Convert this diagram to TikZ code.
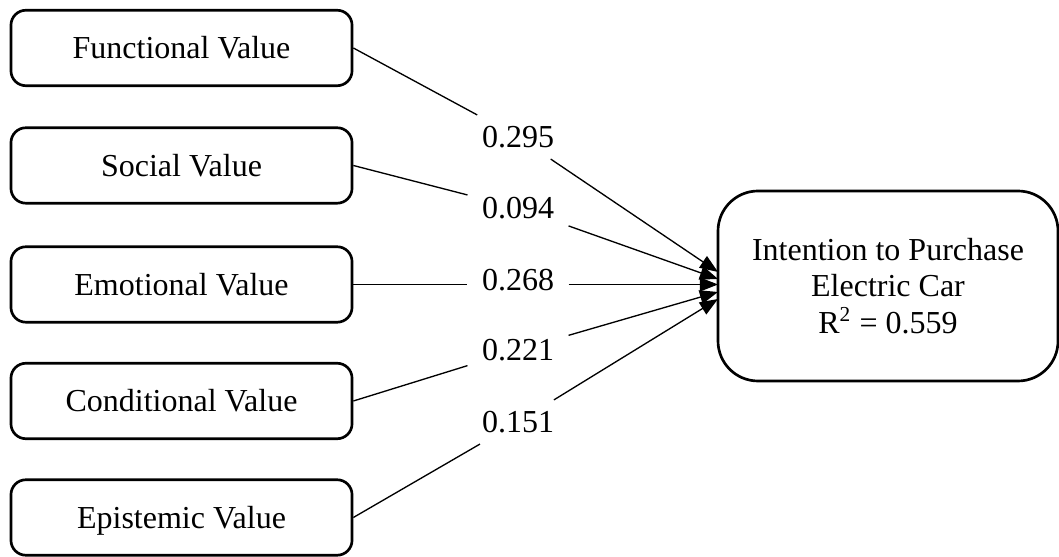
\documentclass[tikz,border=0pt]{standalone}
\usepackage{fontspec}
\setmainfont{Liberation Serif}
\usetikzlibrary{arrows.meta}
\begin{document}
\begin{tikzpicture}[x=0.375pt,y=-0.375pt,
  valuebox/.style={draw,line width=1pt,rounded corners=5.6pt,
    minimum width=127.9pt,minimum height=28.3pt,inner sep=0pt,
    font=\fontsize{12}{13.8}\selectfont,text height=0.82em,text depth=0pt},
  goalbox/.style={draw,line width=1pt,rounded corners=15pt,
    minimum width=127.5pt,minimum height=71.25pt,align=center,
    font=\fontsize{12}{13.7}\selectfont},
  coef/.style={inner xsep=5.25pt,inner ysep=4pt,font=\fontsize{12}{13.8}\selectfont},
  link/.style={line width=0.5pt},
  arrowlink/.style={line width=0.5pt,-{Triangle[length=6.8pt,width=5.2pt]}}]
\useasboundingbox (0,0) rectangle (1059,557);

% predictor constructs
\node[valuebox] (fv) at (181.5,48) {Functional Value};
\node[valuebox] (sv) at (181.5,165.5) {Social Value};
\node[valuebox] (ev) at (181.5,284.5) {Emotional Value};
\node[valuebox] (cv) at (181.5,401) {Conditional Value};
\node[valuebox] (pv) at (181.5,517.5) {Epistemic Value};

% outcome construct
\node[goalbox] (ip) at (888,286) {Intention to Purchase\\Electric Car\\R\textsuperscript{2} = 0.559};

% path coefficients
\node[coef] (c1) at (518,137) {0.295};
\node[coef] (c2) at (518,208) {0.094};
\node[coef] (c3) at (518,280.5) {0.268};
\node[coef] (c4) at (518,350) {0.221};
\node[coef] (c5) at (518,422) {0.151};

% arrow end points on the outcome box
\coordinate (t1) at (718,272);
\coordinate (t2) at (718,279);
\coordinate (t3) at (718,284.5);
\coordinate (t4) at (718,292);
\coordinate (t5) at (718,299);

% structural paths
\draw[link] (fv.east) -- (c1);
\draw[arrowlink] (c1) -- (t1);
\draw[link] (sv.east) -- (c2);
\draw[arrowlink] (c2) -- (t2);
\draw[link] (ev.east) -- (ev.east -| c3.west);
\draw[arrowlink] (t3 -| c3.east) -- (t3);
\draw[link] (cv.east) -- (c4);
\draw[arrowlink] (c4) -- (t4);
\draw[link] (pv.east) -- (c5);
\draw[arrowlink] (c5) -- (t5);
\end{tikzpicture}
\end{document}
